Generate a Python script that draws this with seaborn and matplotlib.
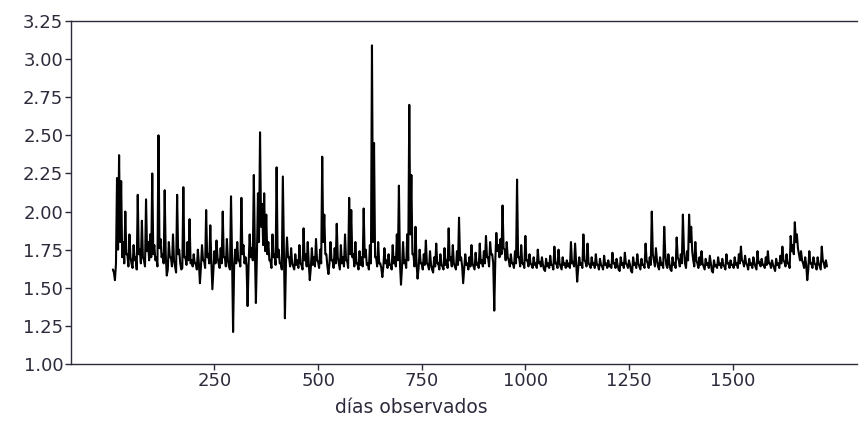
import numpy as np
import pandas as pd
import matplotlib
matplotlib.use("Agg")
import matplotlib.pyplot as plt
import seaborn as sns

# readings per 5-day block: first reading of each block
valores_a = [
    # 5-100
    1.62, 1.55, 2.22, 2.37, 2.20, 1.80, 2.00, 1.72, 1.85, 1.66, 1.78, 1.70, 2.11, 1.75, 1.94, 1.68, 2.08, 1.80, 1.85, 2.25,
    # 105-200
    1.78, 1.70, 2.50, 1.82, 1.72, 2.14, 1.58, 1.80, 1.70, 1.85, 1.64, 2.11, 1.75, 1.62, 2.16, 1.70, 1.80, 1.95, 1.68, 1.72,
    # 205-300
    1.66, 1.75, 1.53, 1.78, 1.68, 2.01, 1.72, 1.91, 1.49, 1.74, 1.81, 1.66, 1.76, 2.00, 1.70, 1.82, 1.64, 2.10, 1.21, 1.75,
    # 305-400
    1.80, 1.68, 2.09, 1.78, 1.70, 1.38, 1.85, 1.76, 2.24, 1.40, 2.12, 2.52, 2.05, 2.12, 1.98, 1.80, 1.68, 1.85, 1.72, 2.29,
    # 405-500
    1.75, 1.66, 2.23, 1.30, 1.83, 1.70, 1.76, 1.64, 1.72, 1.68, 1.78, 1.65, 1.89, 1.72, 1.80, 1.55, 1.76, 1.70, 1.82, 1.67,
    # 505-600
    1.75, 2.36, 1.98, 1.72, 1.59, 1.80, 1.68, 1.76, 1.92, 1.66, 1.78, 1.70, 1.85, 1.68, 2.09, 2.01, 1.72, 1.80, 1.66, 1.74,
    # 605-700
    1.70, 2.02, 1.75, 1.66, 1.78, 3.09, 2.45, 1.70, 1.80, 1.66, 1.57, 1.76, 1.68, 1.72, 1.65, 1.78, 1.70, 1.85, 2.17, 1.52,
    # 705-800
    1.80, 1.68, 1.85, 2.70, 2.24, 1.72, 1.90, 1.56, 1.75, 1.66, 1.72, 1.81, 1.65, 1.74, 1.62, 1.70, 1.79, 1.66, 1.72, 1.64,
    # 805-900
    1.76, 1.68, 1.89, 1.70, 1.78, 1.64, 1.74, 1.96, 1.70, 1.53, 1.72, 1.66, 1.70, 1.78, 1.64, 1.73, 1.66, 1.79, 1.68, 1.74,
    # 905-1000
    1.84, 1.70, 1.80, 1.72, 1.35, 1.86, 1.78, 1.82, 2.04, 1.75, 1.80, 1.68, 1.72, 1.66, 1.74, 2.21, 1.70, 1.78, 1.66, 1.84,
    # 1005-1100
    1.68, 1.72, 1.65, 1.70, 1.66, 1.75, 1.67, 1.70, 1.62, 1.69, 1.66, 1.71, 1.65, 1.77, 1.66, 1.75, 1.64, 1.70, 1.66, 1.68,
    # 1105-1200
    1.66, 1.80, 1.67, 1.79, 1.54, 1.70, 1.66, 1.85, 1.67, 1.79, 1.65, 1.70, 1.66, 1.72, 1.65, 1.69, 1.64, 1.71, 1.66, 1.68,
    # 1205-1300
    1.65, 1.73, 1.66, 1.69, 1.62, 1.70, 1.66, 1.73, 1.65, 1.68, 1.61, 1.70, 1.66, 1.72, 1.64, 1.69, 1.65, 1.79, 1.66, 1.70,
    # 1305-1400
    2.00, 1.68, 1.76, 1.64, 1.70, 1.66, 1.90, 1.65, 1.72, 1.62, 1.70, 1.66, 1.83, 1.68, 1.72, 1.98, 1.66, 1.74, 1.98, 1.90,
    # 1405-1500
    1.68, 1.80, 1.66, 1.70, 1.74, 1.64, 1.69, 1.66, 1.71, 1.61, 1.68, 1.65, 1.70, 1.66, 1.69, 1.64, 1.72, 1.66, 1.68, 1.65,
    # 1505-1600
    1.70, 1.66, 1.72, 1.77, 1.67, 1.71, 1.65, 1.69, 1.66, 1.70, 1.64, 1.74, 1.67, 1.69, 1.65, 1.70, 1.74, 1.66, 1.68, 1.63,
    # 1605-1700
    1.69, 1.66, 1.71, 1.77, 1.67, 1.72, 1.66, 1.84, 1.78, 1.93, 1.85, 1.72, 1.74, 1.66, 1.70, 1.55, 1.74, 1.66, 1.70, 1.65,
    # 1705-1725
    1.70, 1.64, 1.77, 1.66, 1.68,
]

# second reading of each 5-day block (mid-block), mostly the base level
valores_b = [
    # 5-100
    1.60, 1.66, 1.75, 1.80, 1.70, 1.66, 1.72, 1.64, 1.70, 1.63, 1.68, 1.62, 1.72, 1.66, 1.70, 1.64, 1.74, 1.68, 1.70, 1.72,
    # 105-200
    1.68, 1.64, 1.76, 1.70, 1.66, 1.72, 1.62, 1.70, 1.64, 1.68, 1.60, 1.72, 1.66, 1.63, 1.70, 1.65, 1.68, 1.66, 1.64, 1.66,
    # 205-300
    1.62, 1.66, 1.64, 1.68, 1.63, 1.70, 1.66, 1.68, 1.62, 1.66, 1.70, 1.63, 1.66, 1.70, 1.64, 1.68, 1.62, 1.70, 1.64, 1.66,
    # 305-400
    1.68, 1.64, 1.72, 1.66, 1.64, 1.66, 1.70, 1.68, 1.76, 1.72, 1.80, 1.90, 1.78, 1.74, 1.72, 1.68, 1.63, 1.70, 1.65, 1.70,
    # 405-500
    1.66, 1.62, 1.74, 1.66, 1.70, 1.64, 1.66, 1.62, 1.65, 1.63, 1.66, 1.62, 1.68, 1.64, 1.66, 1.63, 1.65, 1.64, 1.68, 1.63,
    # 505-600
    1.66, 1.80, 1.72, 1.64, 1.66, 1.68, 1.63, 1.66, 1.70, 1.62, 1.66, 1.64, 1.68, 1.63, 1.72, 1.70, 1.64, 1.66, 1.62, 1.65,
    # 605-700
    1.64, 1.70, 1.65, 1.62, 1.66, 1.80, 1.70, 1.64, 1.66, 1.63, 1.64, 1.66, 1.63, 1.65, 1.62, 1.66, 1.64, 1.68, 1.66, 1.64,
    # 705-800
    1.66, 1.63, 1.68, 1.85, 1.72, 1.64, 1.66, 1.63, 1.66, 1.62, 1.65, 1.66, 1.62, 1.65, 1.60, 1.64, 1.66, 1.62, 1.65, 1.62,
    # 805-900
    1.65, 1.63, 1.68, 1.64, 1.66, 1.62, 1.65, 1.68, 1.64, 1.63, 1.65, 1.62, 1.64, 1.66, 1.62, 1.65, 1.63, 1.66, 1.64, 1.66,
    # 905-1000
    1.70, 1.64, 1.72, 1.66, 1.68, 1.74, 1.70, 1.72, 1.76, 1.68, 1.70, 1.64, 1.66, 1.63, 1.66, 1.70, 1.64, 1.66, 1.63, 1.68,
    # 1005-1100
    1.64, 1.66, 1.63, 1.65, 1.63, 1.66, 1.64, 1.65, 1.61, 1.64, 1.63, 1.65, 1.62, 1.66, 1.63, 1.66, 1.62, 1.65, 1.63, 1.64,
    # 1105-1200
    1.63, 1.66, 1.64, 1.66, 1.63, 1.65, 1.63, 1.68, 1.64, 1.66, 1.63, 1.65, 1.63, 1.65, 1.62, 1.65, 1.62, 1.65, 1.63, 1.64,
    # 1205-1300
    1.63, 1.66, 1.63, 1.65, 1.61, 1.65, 1.63, 1.66, 1.63, 1.65, 1.60, 1.65, 1.63, 1.66, 1.62, 1.65, 1.63, 1.68, 1.63, 1.65,
    # 1305-1400
    1.72, 1.64, 1.68, 1.62, 1.65, 1.63, 1.72, 1.63, 1.66, 1.61, 1.65, 1.63, 1.70, 1.64, 1.66, 1.75, 1.63, 1.68, 1.80, 1.74,
    # 1405-1500
    1.64, 1.68, 1.63, 1.65, 1.66, 1.62, 1.65, 1.63, 1.66, 1.60, 1.64, 1.63, 1.65, 1.63, 1.65, 1.62, 1.66, 1.63, 1.65, 1.63,
    # 1505-1600
    1.65, 1.63, 1.66, 1.68, 1.64, 1.66, 1.62, 1.65, 1.63, 1.66, 1.62, 1.66, 1.64, 1.65, 1.63, 1.65, 1.66, 1.63, 1.65, 1.61,
    # 1605-1700
    1.65, 1.63, 1.66, 1.68, 1.64, 1.66, 1.63, 1.74, 1.72, 1.80, 1.76, 1.68, 1.68, 1.63, 1.65, 1.62, 1.66, 1.63, 1.66, 1.62,
    # 1705-1725
    1.66, 1.62, 1.68, 1.63, 1.64,
]

dias_a = np.arange(5, 5 * len(valores_a) + 1, 5)
dias_b = dias_a + 2.5

x_ticks = [250, 500, 750, 1000, 1250, 1500]
y_ticks = [1.00, 1.25, 1.50, 1.75, 2.00, 2.25, 2.50, 2.75, 3.00, 3.25]
x_label = "días observados"

df = pd.DataFrame({
    "dia": np.concatenate([dias_a, dias_b]),
    "valor": np.concatenate([valores_a, valores_b]),
}).sort_values("dia")

sns.set_style("white")
plt.rcParams["font.family"] = ["DejaVu Sans"]

fig = plt.figure(figsize=(8.59, 4.21), dpi=100)
ax = fig.add_axes([71 / 859, (421 - 364) / 421, 786 / 859, 343 / 421])

sns.lineplot(data=df, x="dia", y="valor", ax=ax, color="black", linewidth=1.5)

ax.set_xlim(-96, 1800)
ax.set_ylim(1.0, 3.25)
ax.set_xticks(x_ticks)
ax.set_xticklabels([str(t) for t in x_ticks])
ax.set_yticks(y_ticks)
ax.set_yticklabels([f"{t:.2f}" for t in y_ticks])

tc = "#2b2b3b"
ax.tick_params(axis="both", direction="out", length=4, width=1, colors=tc,
               labelsize=13, pad=1.5, left=True, bottom=True)
for s in ["left", "bottom", "top"]:
    ax.spines[s].set_visible(True)
    ax.spines[s].set_color(tc)
    ax.spines[s].set_linewidth(1.0)
ax.spines["right"].set_visible(False)

ax.set_ylabel("")
ax.set_xlabel(x_label, fontsize=13.5, color=tc)
ax.xaxis.set_label_coords((411 - 71) / 786, -0.10)

fig.savefig("out.png", dpi=100, facecolor="white")
